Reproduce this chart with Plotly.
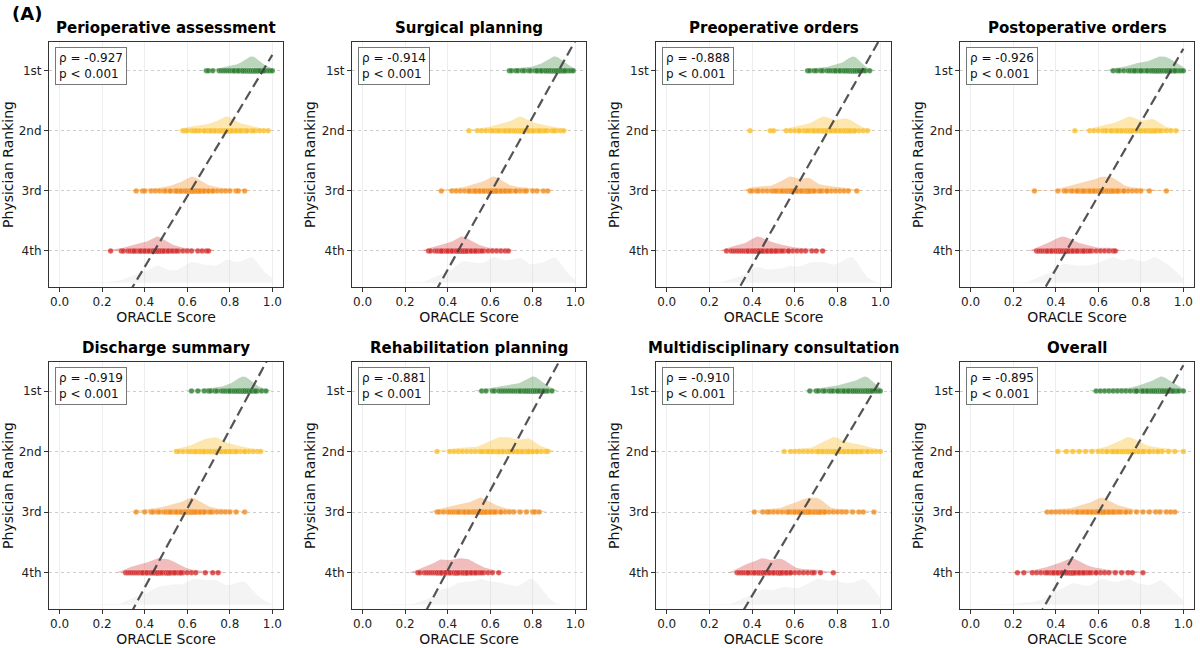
import numpy as np
import plotly.graph_objects as go

# ---------------- data ----------------
panel_titles = ["Perioperative assessment", "Surgical planning", "Preoperative orders",
                "Postoperative orders", "Discharge summary", "Rehabilitation planning",
                "Multidisciplinary consultation", "Overall"]
rank_labels = ["1st", "2nd", "3rd", "4th"]
rho_values = [-0.927, -0.914, -0.888, -0.926, -0.919, -0.881, -0.910, -0.895]
p_text = "p < 0.001"
# regression line: ORACLE score where the fitted line crosses the 1st and the 4th rank
fit_x_at_1st = [0.955, 0.921, 0.914, 0.940, 0.898, 0.850, 0.970, 0.930]
fit_x_at_4th = [0.445, 0.449, 0.4375, 0.450, 0.438, 0.394, 0.464, 0.4375]
x_ticks = [0.0, 0.2, 0.4, 0.6, 0.8, 1.0]

# spread of scores per ranking (visible dots)
# Perioperative assessment
p1_1 = [0.69,0.70,0.72,0.75,0.76,0.77,0.78,0.79,0.80,0.81,0.82,0.83,0.84,0.85,0.86,0.86,0.87,0.88,0.88,0.89,0.89,0.90,0.90,0.90,0.91,0.91,0.91,0.92,0.92,0.93,0.93,0.94,0.95,0.96,0.97,0.98,0.99,1.00]
p1_2 = [0.58,0.59,0.60,0.62,0.63,0.65,0.66,0.68,0.69,0.70,0.71,0.72,0.73,0.74,0.75,0.76,0.77,0.77,0.78,0.78,0.79,0.79,0.80,0.80,0.81,0.82,0.83,0.84,0.85,0.86,0.87,0.88,0.90,0.92,0.94,0.96,0.98]
p1_3 = [0.36,0.39,0.40,0.43,0.45,0.47,0.49,0.50,0.52,0.54,0.55,0.56,0.57,0.58,0.59,0.60,0.61,0.61,0.62,0.62,0.63,0.63,0.64,0.65,0.66,0.67,0.68,0.70,0.72,0.74,0.76,0.78,0.80,0.83,0.84,0.87]
p1_4 = [0.24,0.29,0.30,0.32,0.33,0.34,0.35,0.36,0.37,0.38,0.39,0.40,0.41,0.42,0.43,0.44,0.44,0.45,0.45,0.46,0.46,0.47,0.47,0.48,0.49,0.50,0.51,0.52,0.54,0.56,0.58,0.60,0.62,0.65,0.67,0.69,0.70]
# Surgical planning
p2_1 = [0.69,0.70,0.72,0.73,0.75,0.76,0.78,0.79,0.81,0.82,0.83,0.84,0.85,0.86,0.87,0.88,0.89,0.89,0.90,0.90,0.90,0.91,0.91,0.92,0.92,0.93,0.94,0.95,0.96,0.97,0.98,0.99]
p2_2 = [0.50,0.54,0.56,0.58,0.60,0.62,0.63,0.65,0.66,0.67,0.68,0.69,0.70,0.71,0.72,0.73,0.73,0.74,0.74,0.75,0.75,0.76,0.77,0.78,0.79,0.80,0.81,0.82,0.83,0.84,0.85,0.87,0.89,0.91,0.93,0.945]
p2_3 = [0.37,0.42,0.44,0.46,0.48,0.50,0.51,0.52,0.53,0.54,0.55,0.56,0.57,0.58,0.59,0.60,0.60,0.61,0.61,0.62,0.62,0.63,0.63,0.64,0.65,0.66,0.67,0.68,0.70,0.72,0.74,0.76,0.77,0.80,0.82,0.85,0.87]
p2_4 = [0.31,0.32,0.34,0.35,0.36,0.37,0.38,0.39,0.40,0.41,0.42,0.43,0.44,0.45,0.45,0.46,0.46,0.47,0.47,0.48,0.48,0.49,0.50,0.51,0.52,0.53,0.54,0.55,0.57,0.59,0.61,0.63,0.65,0.67,0.685]
# Preoperative orders
p3_1 = [0.66,0.67,0.69,0.70,0.72,0.73,0.75,0.76,0.77,0.78,0.79,0.80,0.81,0.82,0.83,0.84,0.85,0.86,0.86,0.87,0.87,0.87,0.88,0.88,0.88,0.89,0.89,0.90,0.91,0.92,0.93,0.95]
p3_2 = [0.39,0.485,0.50,0.56,0.58,0.60,0.62,0.64,0.65,0.67,0.68,0.69,0.70,0.71,0.72,0.73,0.73,0.74,0.74,0.75,0.76,0.77,0.78,0.79,0.80,0.81,0.82,0.83,0.83,0.84,0.85,0.86,0.87,0.88,0.90,0.92,0.94]
p3_3 = [0.39,0.40,0.42,0.43,0.45,0.47,0.49,0.50,0.52,0.53,0.54,0.55,0.56,0.57,0.58,0.58,0.59,0.60,0.61,0.62,0.63,0.64,0.65,0.66,0.66,0.67,0.68,0.69,0.71,0.73,0.75,0.77,0.79,0.81,0.83,0.85,0.89]
p3_4 = [0.28,0.30,0.31,0.32,0.33,0.34,0.35,0.36,0.37,0.38,0.39,0.40,0.41,0.42,0.42,0.43,0.43,0.44,0.45,0.46,0.47,0.48,0.49,0.50,0.51,0.52,0.53,0.55,0.57,0.59,0.61,0.63,0.65,0.68,0.70,0.73]
# Postoperative orders
p4_1 = [0.67,0.69,0.70,0.72,0.74,0.75,0.76,0.77,0.78,0.79,0.80,0.81,0.82,0.83,0.84,0.85,0.86,0.87,0.87,0.88,0.88,0.89,0.90,0.91,0.92,0.92,0.93,0.94,0.95,0.96,0.97,0.98,0.99,1.00]
p4_2 = [0.49,0.56,0.58,0.60,0.62,0.63,0.64,0.66,0.67,0.68,0.69,0.70,0.71,0.72,0.73,0.74,0.74,0.75,0.75,0.76,0.77,0.78,0.79,0.80,0.81,0.82,0.83,0.84,0.85,0.86,0.86,0.87,0.88,0.90,0.92,0.94,0.965]
p4_3 = [0.30,0.41,0.44,0.45,0.47,0.48,0.50,0.51,0.52,0.53,0.54,0.55,0.56,0.57,0.58,0.59,0.60,0.61,0.61,0.62,0.63,0.64,0.65,0.66,0.66,0.67,0.68,0.69,0.70,0.72,0.74,0.76,0.78,0.80,0.84,0.92]
p4_4 = [0.31,0.32,0.33,0.34,0.35,0.36,0.37,0.38,0.39,0.40,0.41,0.42,0.42,0.43,0.44,0.45,0.45,0.46,0.47,0.48,0.49,0.50,0.51,0.52,0.53,0.54,0.55,0.57,0.59,0.61,0.63,0.65,0.67,0.68]
# Discharge summary
p5_1 = [0.62,0.65,0.68,0.70,0.71,0.73,0.74,0.76,0.77,0.78,0.79,0.80,0.81,0.82,0.83,0.84,0.85,0.85,0.86,0.86,0.87,0.87,0.88,0.88,0.89,0.90,0.91,0.92,0.93,0.95,0.97]
p5_2 = [0.55,0.56,0.58,0.60,0.61,0.62,0.63,0.64,0.65,0.66,0.67,0.68,0.68,0.69,0.70,0.71,0.72,0.73,0.73,0.74,0.74,0.75,0.76,0.77,0.78,0.79,0.80,0.81,0.82,0.83,0.85,0.87,0.89,0.91,0.93,0.945]
p5_3 = [0.36,0.40,0.43,0.44,0.46,0.47,0.49,0.50,0.51,0.52,0.53,0.54,0.55,0.56,0.57,0.58,0.59,0.60,0.61,0.62,0.62,0.63,0.63,0.64,0.65,0.66,0.67,0.68,0.70,0.72,0.74,0.76,0.78,0.80,0.83,0.87]
p5_4 = [0.31,0.32,0.33,0.34,0.35,0.36,0.37,0.38,0.39,0.40,0.41,0.42,0.43,0.44,0.45,0.46,0.46,0.47,0.48,0.49,0.50,0.51,0.51,0.52,0.53,0.54,0.55,0.56,0.57,0.58,0.60,0.62,0.64,0.685,0.72,0.745]
# Rehabilitation planning
p6_1 = [0.56,0.58,0.61,0.62,0.64,0.65,0.66,0.67,0.68,0.69,0.70,0.71,0.72,0.73,0.74,0.75,0.76,0.77,0.78,0.79,0.80,0.80,0.81,0.81,0.82,0.83,0.84,0.85,0.86,0.87,0.89]
p6_2 = [0.35,0.41,0.43,0.45,0.47,0.49,0.51,0.53,0.55,0.57,0.58,0.59,0.60,0.61,0.62,0.63,0.64,0.64,0.65,0.66,0.67,0.68,0.69,0.69,0.70,0.71,0.72,0.73,0.74,0.75,0.76,0.77,0.78,0.78,0.79,0.80,0.82,0.84,0.86,0.87]
p6_3 = [0.35,0.36,0.38,0.40,0.41,0.42,0.43,0.44,0.45,0.46,0.47,0.48,0.49,0.50,0.51,0.52,0.53,0.54,0.55,0.55,0.56,0.56,0.57,0.58,0.59,0.60,0.61,0.62,0.63,0.65,0.67,0.69,0.71,0.74,0.77,0.80,0.81,0.83]
p6_4 = [0.26,0.27,0.29,0.30,0.31,0.32,0.33,0.34,0.35,0.36,0.37,0.37,0.38,0.39,0.40,0.41,0.42,0.43,0.44,0.44,0.45,0.46,0.47,0.48,0.49,0.49,0.50,0.51,0.52,0.53,0.54,0.55,0.57,0.59,0.61,0.64]
# Multidisciplinary consultation
p7_1 = [0.67,0.70,0.71,0.73,0.74,0.76,0.77,0.78,0.80,0.81,0.82,0.83,0.84,0.85,0.86,0.87,0.88,0.89,0.90,0.91,0.92,0.92,0.93,0.93,0.94,0.94,0.95,0.96,0.97,0.98,0.99,1.00]
p7_2 = [0.55,0.58,0.60,0.62,0.64,0.66,0.68,0.70,0.71,0.72,0.73,0.74,0.75,0.76,0.77,0.78,0.78,0.79,0.79,0.80,0.81,0.82,0.83,0.84,0.85,0.86,0.87,0.88,0.89,0.90,0.92,0.94,0.96,0.98,1.00]
p7_3 = [0.41,0.45,0.47,0.48,0.50,0.52,0.54,0.56,0.57,0.58,0.59,0.60,0.61,0.62,0.63,0.64,0.65,0.66,0.66,0.67,0.68,0.69,0.70,0.71,0.71,0.72,0.73,0.74,0.76,0.78,0.80,0.82,0.84,0.87,0.90,0.92,0.97]
p7_4 = [0.33,0.34,0.35,0.36,0.37,0.38,0.39,0.40,0.41,0.42,0.43,0.44,0.45,0.45,0.46,0.47,0.48,0.49,0.50,0.51,0.52,0.53,0.53,0.54,0.55,0.56,0.57,0.58,0.60,0.62,0.64,0.66,0.68,0.69,0.72,0.78]
# Overall
p8_1 = [0.59,0.61,0.63,0.65,0.67,0.69,0.71,0.73,0.75,0.77,0.78,0.80,0.81,0.82,0.83,0.84,0.85,0.86,0.87,0.88,0.89,0.89,0.90,0.90,0.91,0.91,0.92,0.93,0.94,0.95,0.96,0.97,0.98,1.00]
p8_2 = [0.41,0.45,0.48,0.51,0.54,0.57,0.60,0.62,0.64,0.66,0.67,0.68,0.69,0.70,0.71,0.72,0.73,0.74,0.74,0.75,0.75,0.76,0.77,0.78,0.79,0.80,0.81,0.82,0.84,0.86,0.88,0.90,0.93,0.96,1.00]
p8_3 = [0.36,0.38,0.40,0.42,0.44,0.46,0.48,0.50,0.51,0.52,0.54,0.55,0.56,0.57,0.58,0.59,0.60,0.61,0.61,0.62,0.62,0.63,0.64,0.65,0.66,0.67,0.68,0.69,0.71,0.73,0.75,0.78,0.81,0.84,0.87,0.89,0.92,0.94,0.96]
p8_4 = [0.22,0.25,0.29,0.31,0.33,0.35,0.37,0.38,0.39,0.40,0.41,0.42,0.43,0.44,0.45,0.46,0.47,0.47,0.48,0.48,0.49,0.50,0.51,0.52,0.53,0.54,0.55,0.57,0.59,0.61,0.63,0.65,0.68,0.71,0.74,0.76,0.81]

# additional overlapping observations in the dense core of each ranking (hidden under the dots)
c1_1 = [0.82,0.84,0.86,0.87,0.88,0.89,0.89,0.90,0.90,0.91,0.91,0.92,0.92,0.93,0.94,0.96]
c1_2 = [0.64,0.68,0.71,0.73,0.75,0.76,0.77,0.78,0.78,0.79,0.80,0.81,0.83,0.85,0.88,0.91]
c1_3 = [0.52,0.55,0.57,0.59,0.60,0.61,0.62,0.62,0.63,0.64,0.65,0.66,0.68,0.70,0.72]
c1_4 = [0.35,0.38,0.40,0.42,0.44,0.45,0.46,0.46,0.47,0.48,0.49,0.51,0.53,0.55]
c2_1 = [0.82,0.84,0.86,0.87,0.88,0.89,0.90,0.90,0.91,0.91,0.92,0.93,0.94,0.95]
c2_2 = [0.61,0.64,0.67,0.69,0.71,0.72,0.73,0.74,0.74,0.75,0.76,0.78,0.80,0.83,0.86,0.90]
c2_3 = [0.50,0.53,0.55,0.57,0.59,0.60,0.61,0.62,0.62,0.63,0.65,0.67,0.69,0.72]
c2_4 = [0.37,0.40,0.42,0.44,0.45,0.46,0.47,0.47,0.48,0.49,0.51,0.53,0.56]
c3_1 = [0.79,0.81,0.83,0.84,0.85,0.86,0.87,0.87,0.88,0.88,0.89,0.90]
c3_2 = [0.62,0.66,0.69,0.71,0.73,0.73,0.74,0.75,0.77,0.79,0.81,0.83,0.84,0.85,0.86,0.88]
c3_3 = [0.51,0.54,0.56,0.57,0.58,0.58,0.59,0.61,0.63,0.65,0.66,0.66,0.67,0.69,0.72,0.75]
c3_4 = [0.38,0.40,0.41,0.42,0.43,0.43,0.44,0.45,0.47,0.49,0.51,0.54,0.57]
c4_1 = [0.77,0.80,0.83,0.85,0.86,0.87,0.88,0.89,0.90,0.91,0.92,0.92,0.93,0.94,0.96]
c4_2 = [0.66,0.69,0.71,0.73,0.74,0.75,0.75,0.76,0.78,0.80,0.82,0.84,0.85,0.86,0.87,0.89]
c4_3 = [0.50,0.53,0.56,0.58,0.60,0.61,0.61,0.62,0.64,0.65,0.66,0.66,0.67,0.69,0.72]
c4_4 = [0.36,0.38,0.40,0.41,0.42,0.42,0.43,0.44,0.45,0.45,0.46,0.48,0.50,0.53,0.56]
c5_1 = [0.80,0.82,0.83,0.84,0.85,0.86,0.86,0.87,0.87,0.88,0.89,0.90,0.92]
c5_2 = [0.64,0.66,0.67,0.68,0.68,0.70,0.71,0.72,0.73,0.73,0.74,0.74,0.76,0.78,0.80,0.83,0.87]
c5_3 = [0.52,0.55,0.57,0.59,0.60,0.61,0.62,0.62,0.63,0.64,0.66,0.68,0.71]
c5_4 = [0.39,0.41,0.43,0.44,0.45,0.46,0.46,0.47,0.48,0.50,0.51,0.51,0.52,0.54,0.57]
c6_1 = [0.74,0.76,0.77,0.78,0.79,0.80,0.80,0.81,0.81,0.82,0.83,0.85]
c6_2 = [0.56,0.59,0.61,0.63,0.64,0.64,0.66,0.68,0.69,0.69,0.71,0.73,0.75,0.77,0.78,0.78,0.80,0.82]
c6_3 = [0.45,0.48,0.50,0.52,0.53,0.54,0.55,0.55,0.56,0.57,0.58,0.60,0.62,0.65]
c6_4 = [0.35,0.36,0.37,0.37,0.39,0.41,0.43,0.44,0.44,0.45,0.47,0.48,0.49,0.49,0.51,0.53,0.56]
c7_1 = [0.80,0.83,0.85,0.87,0.88,0.89,0.90,0.91,0.92,0.92,0.93,0.93,0.94,0.94,0.95,0.96]
c7_2 = [0.71,0.73,0.75,0.76,0.77,0.78,0.78,0.79,0.80,0.81,0.83,0.85,0.87,0.89,0.91,0.94]
c7_3 = [0.57,0.60,0.62,0.64,0.65,0.66,0.66,0.67,0.69,0.70,0.71,0.71,0.72,0.74]
c7_4 = [0.38,0.41,0.43,0.44,0.45,0.45,0.46,0.48,0.50,0.52,0.53,0.53,0.54,0.56,0.58]
c8_1 = [0.78,0.81,0.83,0.85,0.86,0.87,0.88,0.89,0.89,0.90,0.90,0.91,0.92,0.93,0.95]
c8_2 = [0.64,0.67,0.69,0.71,0.72,0.73,0.74,0.74,0.75,0.76,0.77,0.79,0.81,0.84,0.88]
c8_3 = [0.50,0.53,0.55,0.57,0.59,0.60,0.61,0.62,0.62,0.63,0.65,0.67,0.70,0.73]
c8_4 = [0.36,0.39,0.41,0.43,0.45,0.46,0.47,0.48,0.48,0.49,0.51,0.53,0.56,0.59]

panel_scores = [
    [p1_1 + c1_1, p1_2 + c1_2, p1_3 + c1_3, p1_4 + c1_4],
    [p2_1 + c2_1, p2_2 + c2_2, p2_3 + c2_3, p2_4 + c2_4],
    [p3_1 + c3_1, p3_2 + c3_2, p3_3 + c3_3, p3_4 + c3_4],
    [p4_1 + c4_1, p4_2 + c4_2, p4_3 + c4_3, p4_4 + c4_4],
    [p5_1 + c5_1, p5_2 + c5_2, p5_3 + c5_3, p5_4 + c5_4],
    [p6_1 + c6_1, p6_2 + c6_2, p6_3 + c6_3, p6_4 + c6_4],
    [p7_1 + c7_1, p7_2 + c7_2, p7_3 + c7_3, p7_4 + c7_4],
    [p8_1 + c8_1, p8_2 + c8_2, p8_3 + c8_3, p8_4 + c8_4],
]

# ---------------- styling ----------------
FONT = "DejaVu Sans"
dot_colors = ["#2e7d32", "#f9bf2c", "#f28c1c", "#d32f2f"]
ridge_colors = ["rgba(46,125,50,0.32)", "rgba(249,191,44,0.38)",
                "rgba(242,140,28,0.35)", "rgba(211,47,47,0.32)"]
grey_fill = "rgba(200,200,200,0.2)"
RIDGE_H = 0.24
GREY_BASE = 4.53
GREY_H = 0.43
BW = 0.024

col_dom = [(0.0408, 0.2358), (0.2933, 0.4883), (0.5467, 0.7425), (0.8000, 0.9950)]
row_dom = [(0.5571, 0.9352), (0.0602, 0.4414)]

grid = np.linspace(0, 1, 401)


def kde(vals):
    v = np.asarray(vals, dtype=float)
    d = np.exp(-0.5 * ((grid[:, None] - v[None, :]) / BW) ** 2).sum(axis=1)
    return d / d.max()


def support(d, thr):
    idx = np.where(d > thr)[0]
    return slice(idx[0], idx[-1] + 1)


fig = go.Figure()
layout = dict()
annotations = []

for i, title in enumerate(panel_titles):
    r, c = divmod(i, 4)
    ax = "" if i == 0 else str(i + 1)
    xa, ya = "x" + ax, "y" + ax
    scores = panel_scores[i]

    # overall grey density at the bottom
    allv = np.concatenate([np.asarray(s) for s in scores])
    dg = kde(allv)
    fig.add_trace(go.Scatter(
        x=np.concatenate([grid, grid[::-1]]),
        y=np.concatenate([GREY_BASE - GREY_H * dg, np.full(grid.size, GREY_BASE)]),
        fill="toself", fillcolor=grey_fill, line=dict(width=0), mode="lines",
        hoverinfo="skip", showlegend=False, xaxis=xa, yaxis=ya))

    # ridges
    for k in range(4):
        rank = k + 1
        d = kde(scores[k])
        s = support(d, 0.03)
        gx, gd = grid[s], d[s]
        fig.add_trace(go.Scatter(
            x=np.concatenate([gx, gx[::-1]]),
            y=np.concatenate([rank - RIDGE_H * gd, np.full(gx.size, rank)]),
            fill="toself", fillcolor=ridge_colors[k], line=dict(width=0), mode="lines",
            hoverinfo="skip", showlegend=False, xaxis=xa, yaxis=ya))

    # dots
    for k in range(4):
        rank = k + 1
        fig.add_trace(go.Scatter(
            x=scores[k], y=[rank] * len(scores[k]), mode="markers",
            marker=dict(size=5.5, color=dot_colors[k], opacity=0.8,
                        line=dict(width=0.4, color="rgba(255,255,255,0.6)")),
            showlegend=False, xaxis=xa, yaxis=ya))

    # regression line (rank as a linear function of score), clipped by the axes
    x1, x4 = fit_x_at_1st[i], fit_x_at_4th[i]
    lx = np.array([0.0, 1.0])
    ly = 1 + 3 * (x1 - lx) / (x1 - x4)
    fig.add_trace(go.Scatter(
        x=lx, y=ly, mode="lines",
        line=dict(color="rgba(60,60,60,0.88)", width=2.2, dash="10px,5px"),
        showlegend=False, xaxis=xa, yaxis=ya))

    layout["xaxis" + ax] = dict(
        domain=list(col_dom[c]), anchor=ya, range=[-0.05, 1.05],
        tickvals=x_ticks, ticktext=[f"{t:.1f}" for t in x_ticks],
        ticks="outside", ticklen=4, tickcolor="#333", tickfont=dict(size=12, color="#222"),
        showline=True, mirror=True, linecolor="#333", linewidth=1,
        showgrid=True, gridcolor="#eeeeee", gridwidth=1, zeroline=False,
        title=dict(text="ORACLE Score", font=dict(size=14, color="#111"), standoff=0),
        automargin=False)
    layout["yaxis" + ax] = dict(
        domain=list(row_dom[r]), anchor=xa, range=[4.6, 0.52],
        tickvals=[1, 2, 3, 4], ticktext=rank_labels,
        ticks="outside", ticklen=4, tickcolor="#333", tickfont=dict(size=12, color="#222"),
        showline=True, mirror=True, linecolor="#333", linewidth=1,
        showgrid=True, gridcolor="#cdcdcd", griddash="dot", gridwidth=1, zeroline=False,
        title=dict(text="Physician Ranking", font=dict(size=14, color="#111"), standoff=2),
        automargin=False)

    # panel title
    annotations.append(dict(
        text=f"<b>{title}</b>", x=(col_dom[c][0] + col_dom[c][1]) / 2,
        y=row_dom[r][1] + 0.005, xref="paper", yref="paper",
        xanchor="center", yanchor="bottom", showarrow=False,
        font=dict(size=15, family=FONT, color="#000")))
    # stats box
    annotations.append(dict(
        text=f"ρ = {rho_values[i]:.3f}<br>{p_text}", x=0.026, y=0.978,
        xref=xa + " domain", yref=ya + " domain", xanchor="left", yanchor="top",
        align="left", showarrow=False, bgcolor="white", bordercolor="#777",
        borderwidth=1, borderpad=3, font=dict(size=12, family=FONT, color="#111")))

annotations.append(dict(
    text="<b>(A)</b>", x=0.008, y=0.998, xref="paper", yref="paper",
    xanchor="left", yanchor="top", showarrow=False,
    font=dict(size=18, family=FONT, color="#000")))

fig.update_layout(
    width=1200, height=648, margin=dict(l=0, r=0, t=0, b=0),
    paper_bgcolor="white", plot_bgcolor="white",
    font=dict(family=FONT, color="#222"),
    annotations=annotations, **layout)

fig.write_html("out.html", config={"displayModeBar": False})
